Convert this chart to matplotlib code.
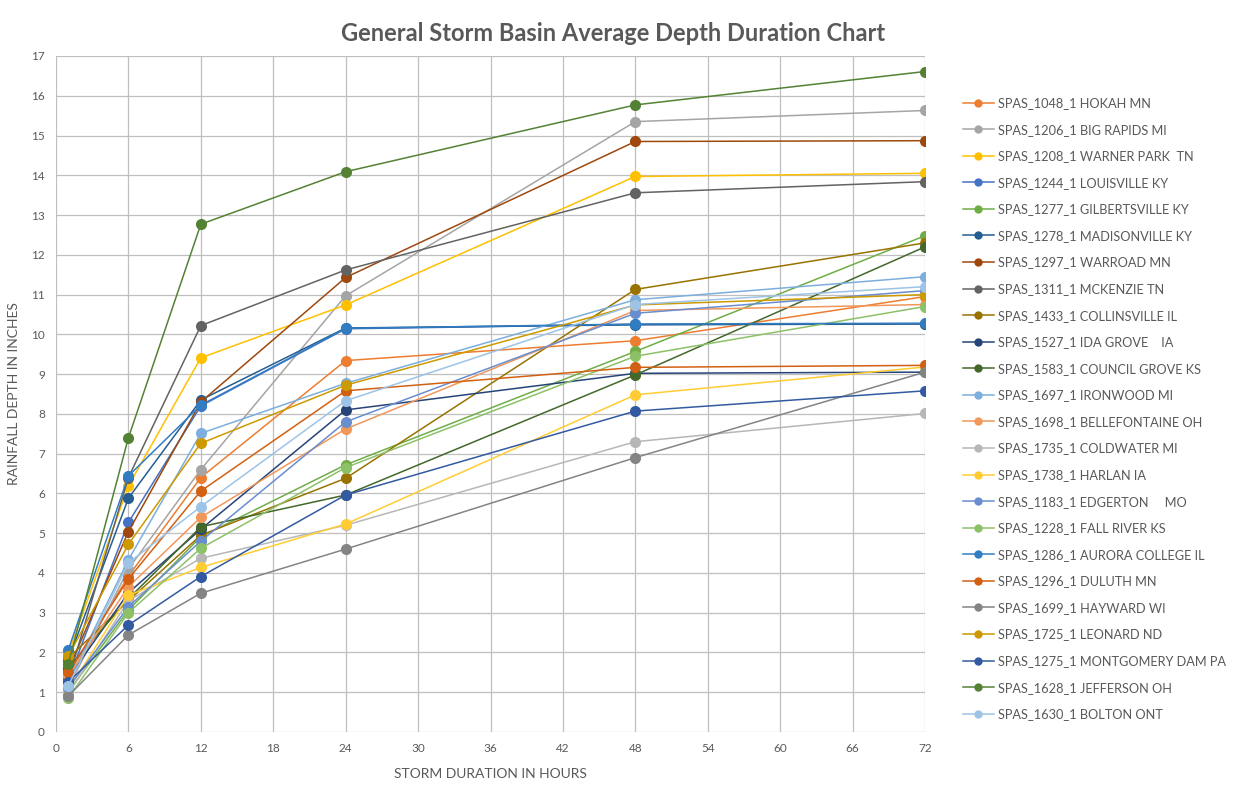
import matplotlib
matplotlib.use('Agg')
import matplotlib.pyplot as plt

# storm durations (hours)
hours = [1, 6, 12, 24, 48, 72]

labels = [
    'SPAS_1048_1 HOKAH MN',
    'SPAS_1206_1 BIG RAPIDS MI',
    'SPAS_1208_1 WARNER PARK  TN',
    'SPAS_1244_1 LOUISVILLE KY',
    'SPAS_1277_1 GILBERTSVILLE KY',
    'SPAS_1278_1 MADISONVILLE KY',
    'SPAS_1297_1 WARROAD MN',
    'SPAS_1311_1 MCKENZIE TN',
    'SPAS_1433_1 COLLINSVILLE IL',
    'SPAS_1527_1 IDA GROVE    IA',
    'SPAS_1583_1 COUNCIL GROVE KS',
    'SPAS_1697_1 IRONWOOD MI',
    'SPAS_1698_1 BELLEFONTAINE OH',
    'SPAS_1735_1 COLDWATER MI',
    'SPAS_1738_1 HARLAN IA',
    'SPAS_1183_1 EDGERTON     MO',
    'SPAS_1228_1 FALL RIVER KS',
    'SPAS_1286_1 AURORA COLLEGE IL',
    'SPAS_1296_1 DULUTH MN',
    'SPAS_1699_1 HAYWARD WI',
    'SPAS_1725_1 LEONARD ND',
    'SPAS_1275_1 MONTGOMERY DAM PA',
    'SPAS_1628_1 JEFFERSON OH',
    'SPAS_1630_1 BOLTON ONT',
]

# depth (inches) for each storm at 1, 6, 12, 24, 48, 72 hours
depths = [
    [1.45, 3.92, 6.40, 9.34, 9.84, 10.95],
    [1.10, 4.10, 6.60, 10.97, 15.35, 15.63],
    [1.95, 6.19, 9.41, 10.74, 13.97, 14.05],
    [1.30, 5.27, 8.20, 10.14, 10.25, 10.27],
    [1.00, 3.07, 4.91, 6.72, 9.57, 12.48],
    [1.80, 5.88, 8.35, 10.16, 10.24, 10.26],
    [1.55, 5.04, 8.30, 11.43, 14.85, 14.87],
    [1.30, 6.40, 10.22, 11.62, 13.56, 13.84],
    [1.85, 3.30, 4.95, 6.38, 11.13, 12.30],
    [1.35, 3.50, 5.10, 8.10, 9.02, 9.05],
    [1.60, 3.35, 5.16, 5.96, 8.98, 12.20],
    [1.25, 4.33, 7.51, 8.77, 10.87, 11.45],
    [1.40, 3.65, 5.40, 7.62, 10.60, 10.75],
    [0.95, 3.30, 4.37, 5.20, 7.30, 8.01],
    [1.05, 3.44, 4.14, 5.23, 8.48, 9.18],
    [1.10, 3.15, 4.80, 7.80, 10.53, 11.10],
    [0.85, 3.00, 4.62, 6.65, 9.45, 10.70],
    [2.05, 6.44, 8.22, 10.15, 10.26, 10.28],
    [1.50, 3.85, 6.06, 8.58, 9.17, 9.22],
    [0.90, 2.44, 3.49, 4.60, 6.90, 9.05],
    [1.90, 4.72, 7.26, 8.72, 10.74, 11.00],
    [1.25, 2.69, 3.91, 5.96, 8.07, 8.58],
    [1.70, 7.40, 12.77, 14.09, 15.77, 16.61],
    [1.15, 4.25, 5.67, 8.33, 10.75, 11.20],
]

colors = ['#ED7D31', '#A5A5A5', '#FFC000', '#4472C4', '#70AD47', '#255E91',
          '#9E480E', '#636363', '#997300', '#264478', '#43682B', '#7CAFDD',
          '#F1975A', '#B7B7B7', '#FFCD33', '#698ED0', '#8CC168', '#327DC2',
          '#D26012', '#848484', '#CC9A00', '#335AA1', '#548235', '#9DC3E6']

TXT = '#595959'
plt.rcParams['font.family'] = ['Lato', 'DejaVu Sans']

fig = plt.figure(figsize=(12.33, 7.85), dpi=100)
ax = fig.add_axes([56 / 1233, 53 / 785, (925 - 56) / 1233, (732 - 56) / 785])

for lab, vals, c in zip(labels, depths, colors):
    ax.plot(hours, vals, color=c, lw=1.1, marker='o', markersize=8,
            markeredgewidth=0, label=lab, zorder=3)

ax.set_xlim(0, 72)
ax.set_ylim(0, 17)
ax.set_xticks(range(0, 73, 6))
ax.set_yticks(range(0, 18))
ax.grid(True, color='#BFBFBF', lw=0.9, zorder=0)
for s in ax.spines.values():
    s.set_visible(False)
ax.tick_params(length=0, labelsize=8.5, labelcolor=TXT, pad=8)
ax.set_xlabel('STORM DURATION IN HOURS', fontsize=10, color=TXT, labelpad=10)
ax.set_ylabel('RAINFALL DEPTH IN INCHES', fontsize=10, color=TXT, labelpad=8)

fig.text(0.497, 0.957, 'General Storm Basin Average Depth Duration Chart',
         ha='center', va='center', fontsize=17, fontweight='bold', color=TXT)

leg = ax.legend(loc='upper left', bbox_to_anchor=(958 / 1233, 1 - 92 / 785),
                bbox_transform=fig.transFigure, frameon=False, fontsize=9.2,
                labelspacing=1.14, handlelength=2.4, handletextpad=0.3,
                borderaxespad=0, markerscale=0.75)
for t in leg.get_texts():
    t.set_color(TXT)

fig.savefig('out.png', dpi=100)
